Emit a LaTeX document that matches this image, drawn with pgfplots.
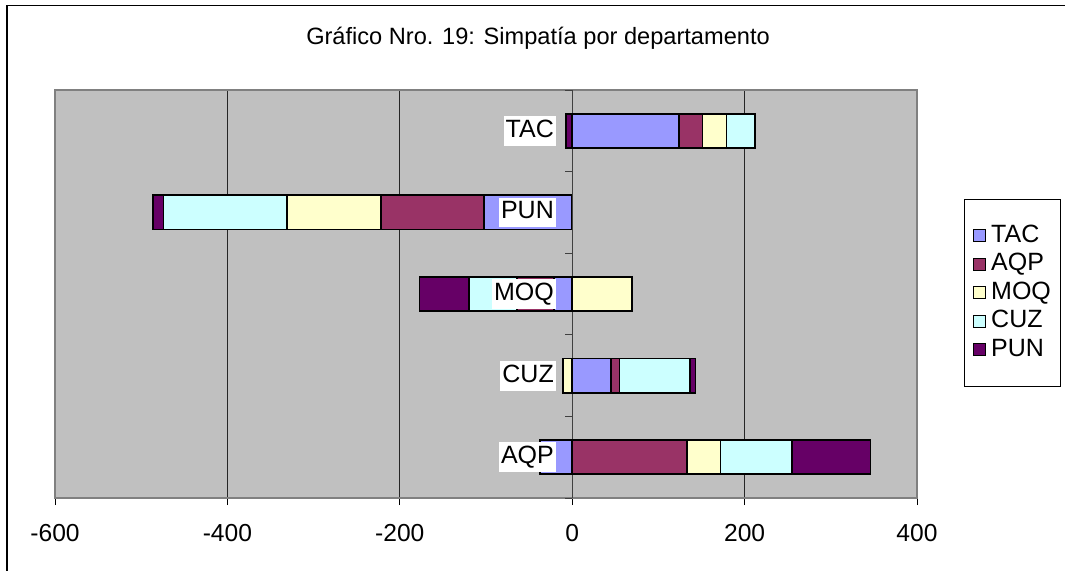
\documentclass[border=0pt]{standalone}
\usepackage{fontspec}
\setmainfont{Liberation Sans}
\usepackage{pgfplots}
\usepackage{pgfplotstable}
\pgfplotsset{compat=1.18}

\definecolor{plotgray}{HTML}{C0C0C0}
\definecolor{framegray}{HTML}{808080}
\definecolor{cTAC}{HTML}{9999FF}
\definecolor{cAQP}{HTML}{993366}
\definecolor{cMOQ}{HTML}{FFFFCC}
\definecolor{cCUZ}{HTML}{CCFFFF}
\definecolor{cPUN}{HTML}{660066}

% rows: departments (0=AQP ... 4=TAC), columns: series
\pgfplotstableread{
idx TAC AQP MOQ CUZ PUN
0   -37  133   39   83   91
1    45   10  -11   82    6
2   -21  -43   69  -56  -57
3  -102 -120 -109 -143  -12
4   124   27   28   33   -7
}\datatable

\pgfplotsset{
  base/.style={
    xbar stacked, bar width=0.42,
    at={(27.5pt,36pt)}, anchor=south west,
    scale only axis, width=431pt, height=204pt,
    xmin=-600, xmax=400, ymin=-0.5, ymax=4.5,
    every axis plot/.append style={draw=black, line width=0.85pt},
  },
  sq/.style={legend image code/.code={
    \draw[##1, draw=black, line width=0.6pt] (0pt,-3pt) rectangle (6pt,3pt);}},
}

\begin{document}
\begin{tikzpicture}
\useasboundingbox (0,0) rectangle (532.5pt,285pt);
\draw[line width=0.7pt] (3.5pt,-5pt) -- (3.5pt,282.3pt) -- (540pt,282.3pt);
\node[font=\fontsize{11.8}{14}\selectfont] at (269pt,266pt)
  {Gráfico Nro. 19: Simpatía por departamento};

% negative parts, background, grid
\begin{axis}[base,
  axis background/.style={fill=plotgray},
  axis line style={draw=framegray, line width=0.8pt},
  xtick={-600,-400,...,400},
  xticklabels={-600,-400,-200,0,200,400},
  xmajorgrids, grid style={black!85, line width=0.5pt},
  xtick pos=bottom, xtick align=outside, major tick length=3.5pt,
  xtick style={black, line width=0.5pt},
  ytick=\empty,
  xticklabel style={font=\fontsize{12.3}{14}\selectfont, yshift=-6pt},
]
\addplot[fill=cTAC] table[x expr={min(\thisrow{TAC},0)}, y=idx]{\datatable};
\addplot[fill=cAQP] table[x expr={min(\thisrow{AQP},0)}, y=idx]{\datatable};
\addplot[fill=cMOQ] table[x expr={min(\thisrow{MOQ},0)}, y=idx]{\datatable};
\addplot[fill=cCUZ] table[x expr={min(\thisrow{CUZ},0)}, y=idx]{\datatable};
\addplot[fill=cPUN] table[x expr={min(\thisrow{PUN},0)}, y=idx]{\datatable};
\end{axis}

% positive parts, category labels, legend
\begin{axis}[base,
  axis x line=none, axis y line=center,
  y axis line style={-, draw=black!75, line width=0.5pt},
  ytick={0,...,4}, yticklabels={AQP,CUZ,MOQ,PUN,TAC},
  minor ytick={-0.5,0.5,...,4.5},
  major tick length=0pt, minor tick length=3.5pt, tick align=outside,
  minor tick style={black!75, line width=0.5pt},
  yticklabel style={font=\fontsize{12.5}{14}\selectfont, anchor=east,
    fill=white, inner xsep=1pt, inner ysep=1.2pt,
    text height=9.5pt, text depth=3pt, xshift=-8pt},
  legend cell align=left,
  legend style={at={(1.0545,0.732)}, anchor=north west, draw=black,
    line width=0.5pt, fill=white, font=\fontsize{12.5}{14}\selectfont,
    outer sep=0pt, inner xsep=4.5pt, inner ysep=12pt, row sep=1.75pt,
    nodes={inner sep=0.5pt, text height=9pt, text depth=2.5pt},
    /tikz/every odd column/.append style={column sep=2pt}},
]
\addplot[fill=cTAC, sq] table[x expr={max(\thisrow{TAC},0)}, y=idx]{\datatable};
\addlegendentry{TAC}
\addplot[fill=cAQP, sq] table[x expr={max(\thisrow{AQP},0)}, y=idx]{\datatable};
\addlegendentry{AQP}
\addplot[fill=cMOQ, sq] table[x expr={max(\thisrow{MOQ},0)}, y=idx]{\datatable};
\addlegendentry{MOQ}
\addplot[fill=cCUZ, sq] table[x expr={max(\thisrow{CUZ},0)}, y=idx]{\datatable};
\addlegendentry{CUZ}
\addplot[fill=cPUN, sq] table[x expr={max(\thisrow{PUN},0)}, y=idx]{\datatable};
\addlegendentry{PUN}
\end{axis}
\end{tikzpicture}
\end{document}
